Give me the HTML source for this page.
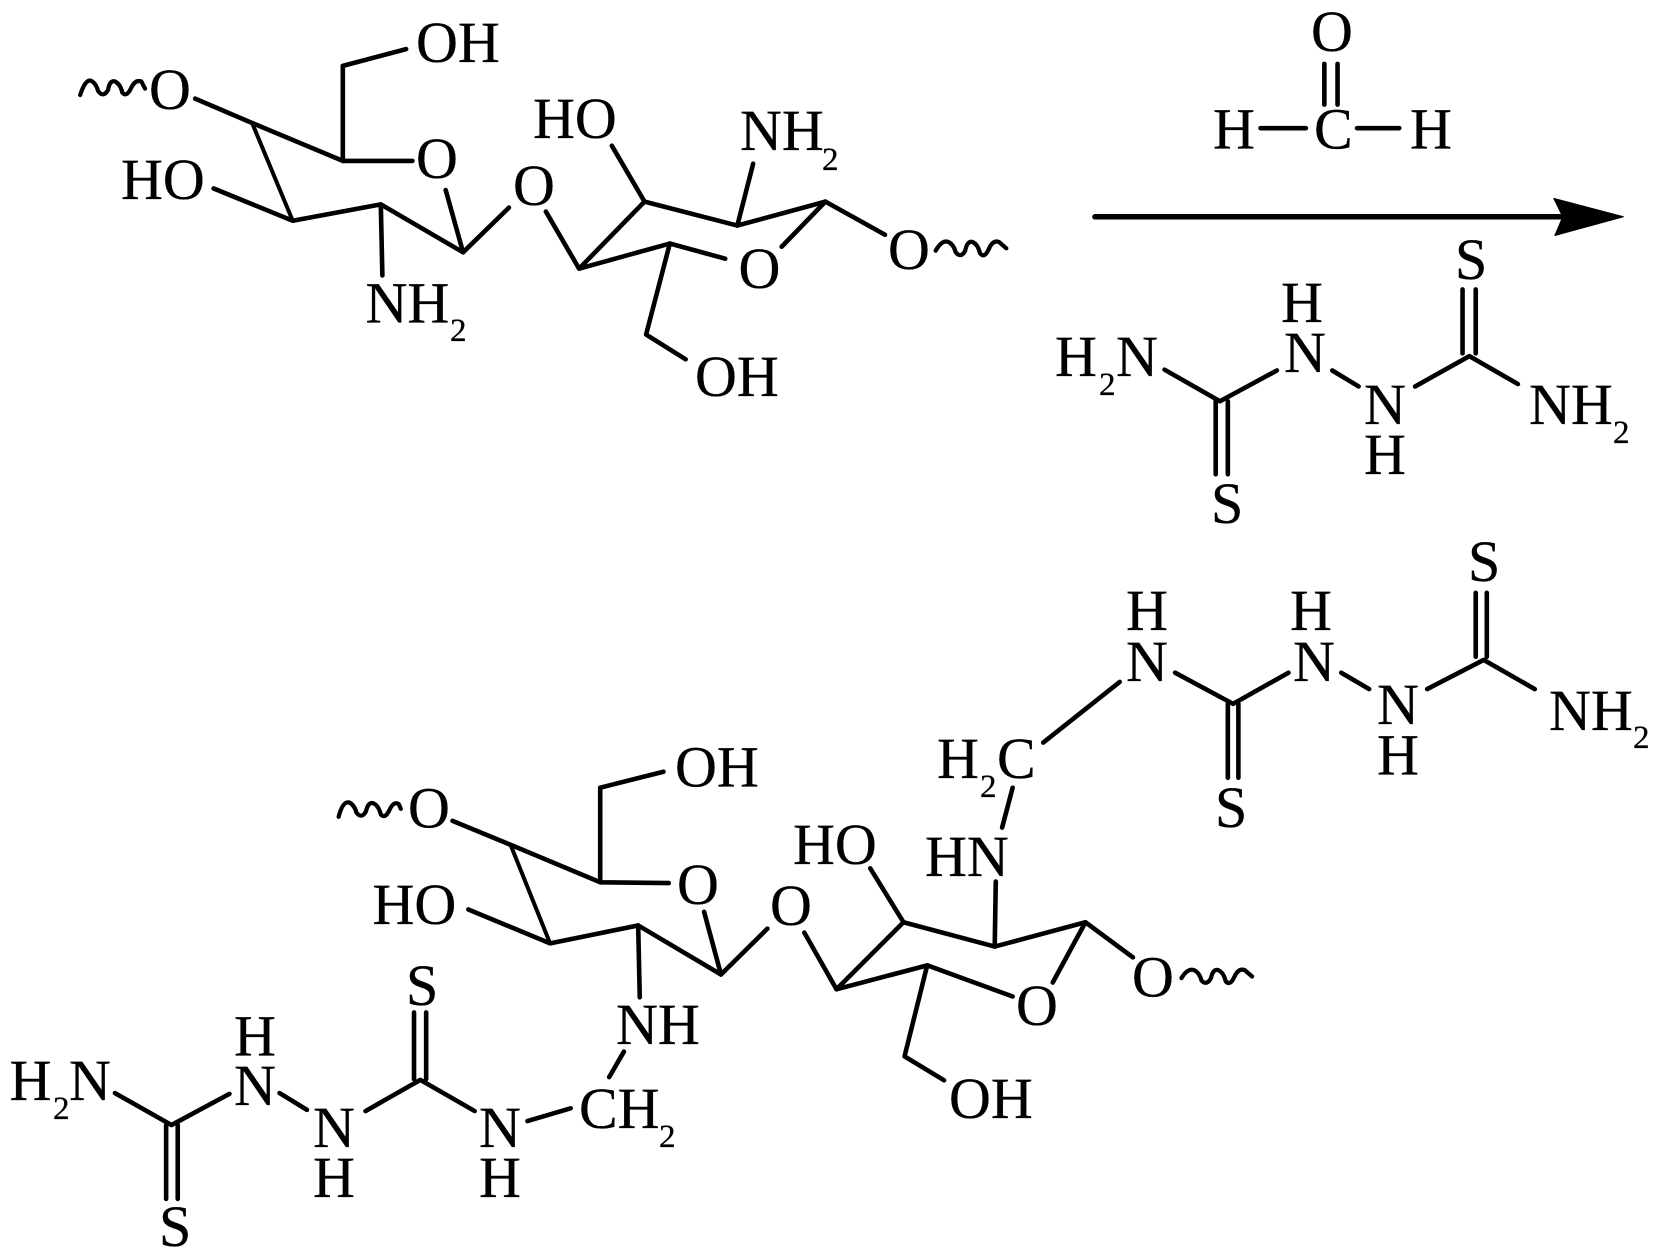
<!DOCTYPE html>
<html><head><meta charset="utf-8">
<style>
html,body{margin:0;padding:0;background:#fff}
svg{display:block}
text{font-family:"Liberation Serif",serif;font-size:58px;fill:#000;stroke:#000;stroke-width:.3}
text.s{font-size:33px}
polyline,path{fill:none;stroke:#000;stroke-width:4.6;vector-effect:non-scaling-stroke;stroke-linejoin:round;stroke-linecap:round}
path.w{stroke-width:4.2;stroke-linecap:round}
</style></head><body>
<svg width="1654" height="1252" viewBox="0 0 1654 1252" xmlns="http://www.w3.org/2000/svg">
<rect width="1654" height="1252" fill="#fff"/>
<g transform="scale(.52742,.39923)">
<path class="w" d="M152,238 Q162,198 172,202 Q182,208 186,228 Q196,246 205,225 Q208,200 218,204 Q228,210 232,232 Q240,244 248,222 Q256,198 268,204 L275,222"/>
<polyline points="370,247 478,308 650,403"/>
<polyline style="stroke-width:4" points="478,308 555,553"/>
<polyline points="405,472 555,553 722,512 878,632 965,520"/>
<polyline points="722,512 725,690"/>
<polyline points="845,476 878,632"/>
<polyline points="782,403 650,403 650,165 770,123"/>
<polyline points="1035,530 1098,673 1222,505"/>
<polyline points="1375,648 1270,610 1098,673"/>
<polyline points="1270,610 1225,838 1300,900"/>
<polyline points="1160,365 1222,505 1398,565 1565,505 1678,588"/>
<polyline points="1428,410 1398,565"/>
<polyline points="1482,618 1565,505"/>
</g>
<g transform="translate(827,0) scale(.52742,.39923)">
<path class="w" d="M206,628 Q218,600 230,606 Q240,612 244,632 Q254,648 262,628 Q266,602 276,606 Q286,612 290,634 Q298,648 306,626 Q314,600 326,606 L340,622"/>
<polyline points="943,160 943,262"/>
<polyline points="968,160 968,262"/>
<polyline points="822,321 908,321"/>
<polyline points="1005,321 1085,321"/>
<polyline style="stroke-width:5.5" points="508,543 1400,543"/>
<path style="fill:#000;stroke:#000;stroke-width:1" d="M1378,497 L1510,543 L1380,590 L1395,543 Z"/>
<polyline points="640,926 745,1005 853,928"/>
<polyline points="737,1005 737,1188"/>
<polyline points="760,1005 760,1188"/>
<polyline points="958,928 1008,968"/>
<polyline points="1115,968 1218,892 1310,962"/>
<polyline points="1205,725 1205,885"/>
<polyline points="1230,725 1230,885"/>
<polyline points="1230,1485 1230,1645"/>
<polyline points="1251,1485 1251,1645"/>
</g>
<g transform="translate(0,626) scale(.52742,.39923)">
<path class="w" d="M642,478 Q650,438 662,442 Q672,448 676,468 Q686,484 694,464 Q698,440 708,444 Q718,450 722,472 Q730,484 738,462 Q746,438 756,446 L760,458"/>
<polyline points="858,488 968,548 1138,642"/>
<polyline style="stroke-width:4" points="968,548 1043,795"/>
<polyline points="888,710 1043,795 1210,750 1367,873 1455,758"/>
<polyline points="1210,750 1213,930"/>
<polyline points="1335,716 1367,873"/>
<polyline points="1268,644 1138,642 1138,405 1258,365"/>
<polyline points="218,1170 325,1250 435,1172"/>
<polyline points="315,1250 315,1435"/>
<polyline points="337,1250 337,1435"/>
<polyline points="530,1170 582,1212"/>
<polyline points="693,1215 797,1137 900,1215"/>
<polyline points="785,968 785,1135"/>
<polyline points="808,968 808,1135"/>
<polyline points="1000,1240 1082,1208"/>
<polyline points="1155,1130 1183,1066"/>
<polyline points="1525,768 1586,910"/>
</g>
<g transform="translate(827,626) scale(.52742,.39923)">
<path class="w" d="M672,882 Q684,856 696,862 Q706,868 710,888 Q720,902 728,882 Q732,858 742,862 Q752,868 756,890 Q764,902 772,880 Q780,856 792,862 L806,878"/>
<polyline points="410,292 555,140"/>
<polyline points="660,117 770,195 875,117"/>
<polyline points="760,195 760,380"/>
<polyline points="780,195 780,380"/>
<polyline points="975,117 1028,158"/>
<polyline points="1138,158 1245,85 1342,158"/>
<polyline points="352,405 332,505"/>
<polyline points="320,640 318,803"/>
<polyline points="82,607 145,742 318,803 490,742 580,830"/>
<polyline points="490,742 428,893"/>
<polyline points="145,742 18,910 190,850 352,928"/>
<polyline points="190,850 147,1078 222,1138"/>
</g>

<text x="416" y="62">OH</text>
<text x="149" y="109">O</text>
<text x="121" y="199">HO</text>
<text x="416" y="178">O</text>
<text x="513" y="205">O</text>
<text x="533" y="138">HO</text>
<text x="740" y="150">NH</text><text class="s" x="822" y="170">2</text>
<text x="738.5" y="288">O</text>
<text x="365.5" y="322.5">NH</text><text class="s" x="450" y="341">2</text>
<text x="695" y="396">OH</text>
<text x="888" y="269">O</text>

<text x="1311" y="51">O</text>
<text x="1213" y="148.5">H</text>
<text x="1314" y="148.5">C</text>
<text x="1410" y="148.5">H</text>

<text x="1455" y="279">S</text>
<text x="1281" y="322">H</text>
<text x="1284" y="372">N</text>
<text x="1055" y="376">H</text><text class="s" x="1099" y="395">2</text><text x="1116" y="376">N</text>
<text x="1364" y="424">N</text>
<text x="1364" y="474">H</text>
<text x="1529" y="424">NH</text><text class="s" x="1613" y="443">2</text>
<text x="1211" y="523">S</text>

<text x="1468" y="581">S</text>
<text x="1126" y="630">H</text>
<text x="1290" y="630">H</text>
<text x="1126" y="681">N</text>
<text x="1293" y="681">N</text>
<text x="1377" y="724">N</text>
<text x="1377" y="774.5">H</text>
<text x="1549" y="730">NH</text><text class="s" x="1633" y="748">2</text>
<text x="937" y="778">H</text><text class="s" x="980" y="797">2</text><text x="997" y="778">C</text>
<text x="1215" y="827">S</text>
<text x="925" y="876">HN</text>
<text x="1016" y="1025">O</text>
<text x="1132" y="996.5">O</text>
<text x="949" y="1118">OH</text>
<text x="793" y="864">HO</text>

<text x="675" y="786.5">OH</text>
<text x="408" y="827.5">O</text>
<text x="372.5" y="924">HO</text>
<text x="677" y="904">O</text>
<text x="770" y="925">O</text>
<text x="616" y="1044">NH</text>
<text x="406" y="1005">S</text>
<text x="234" y="1055.5">H</text>
<text x="234" y="1105">N</text>
<text x="9.5" y="1100">H</text><text class="s" x="53" y="1119">2</text><text x="69" y="1100">N</text>
<text x="313" y="1147">N</text>
<text x="313" y="1197">H</text>
<text x="479" y="1147">N</text>
<text x="479" y="1197">H</text>
<text x="579" y="1128">CH</text><text class="s" x="659" y="1147">2</text>
<text x="159" y="1246">S</text>
</svg>
</body></html>
